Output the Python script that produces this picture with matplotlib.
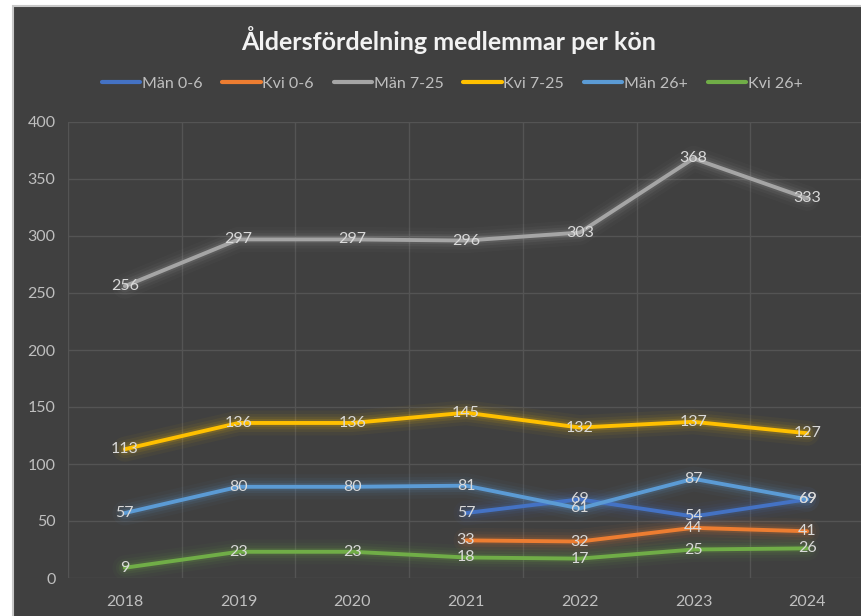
import numpy as np
import matplotlib.pyplot as plt
from matplotlib.patches import Rectangle

# data
years = ['2018', '2019', '2020', '2021', '2022', '2023', '2024']
man_0_6 = [None, None, None, 57, 69, 54, 69]
kvi_0_6 = [None, None, None, 33, 32, 44, 41]
man_7_25 = [256, 297, 297, 296, 303, 368, 333]
kvi_7_25 = [113, 136, 136, 145, 132, 137, 127]
man_26 = [57, 80, 80, 81, 61, 87, 69]
kvi_26 = [9, 23, 23, 18, 17, 25, 26]

names = ['Män 0-6', 'Kvi 0-6', 'Män 7-25', 'Kvi 7-25', 'Män 26+', 'Kvi 26+']
series = [man_0_6, kvi_0_6, man_7_25, kvi_7_25, man_26, kvi_26]
colors = ['#4472C4', '#ED7D31', '#A5A5A5', '#FFC000', '#5B9BD5', '#70AD47']

plt.rcParams['font.family'] = ['Lato', 'DejaVu Sans']
bg = '#404040'
txt = '#d9d9d9'

W, H = 861, 616
fig = plt.figure(figsize=(W / 100, H / 100), dpi=100)
fig.patch.set_facecolor('white')
fig.patches.append(Rectangle((13 / W, -0.05), 1.1, (H - 6) / H + 0.05, transform=fig.transFigure,
                             facecolor=bg, edgecolor='#c8c8c8', lw=1.5, zorder=-10))

# plot area in pixels: x 68..864, y 122..578
ax = fig.add_axes([68 / W, (H - 578) / H, (864 - 68) / W, (578 - 122) / H])
ax.set_facecolor(bg)
x = np.arange(len(years))

for vals, c, n in zip(series, colors, names):
    v = np.array([np.nan if a is None else a for a in vals], dtype=float)
    # soft glow under each line
    for lw, al in [(18, 0.04), (13, 0.06), (9, 0.09), (5.5, 0.14)]:
        ax.plot(x, v, color=c, lw=lw, alpha=al, solid_capstyle='round', zorder=2)
    ax.plot(x, v, color=c, lw=2.8, label=n, solid_capstyle='round', zorder=3)

for vals in series:
    for i, a in enumerate(vals):
        if a is not None:
            ax.text(i, a, str(a), ha='center', va='center', color=txt,
                    fontsize=11.5, zorder=5)

ax.set_xlim(-0.5, 6.5)
ax.set_ylim(0, 400)
ax.set_yticks(range(0, 401, 50))
ax.set_xticks(x)
ax.set_xticklabels(years)
ax.set_xticks(np.arange(-0.5, 7, 1), minor=True)
ax.grid(True, which='major', axis='y', color='#545454', lw=1)
ax.grid(True, which='minor', axis='x', color='#545454', lw=1)
ax.tick_params(which='both', length=0, colors='#bfbfbf', labelsize=11.5)
ax.tick_params(axis='x', pad=12)
ax.tick_params(axis='y', pad=9)
for s in ax.spines.values():
    s.set_visible(False)
ax.set_axisbelow(True)

fig.text(449 / W, 1 - 40 / H, 'Åldersfördelning medlemmar per kön', ha='center',
         va='center', color='#f2f2f2', fontsize=18, fontweight='bold')
leg = fig.legend(loc='center', bbox_to_anchor=(452 / W, 1 - 84 / H), ncol=6,
                 frameon=False, fontsize=11.5, labelcolor='#bfbfbf', handlelength=2.4,
                 handletextpad=0.1, columnspacing=1.25)
for h in leg.get_lines():
    h.set_linewidth(3)

fig.savefig('out.png', dpi=100, facecolor=fig.get_facecolor())
